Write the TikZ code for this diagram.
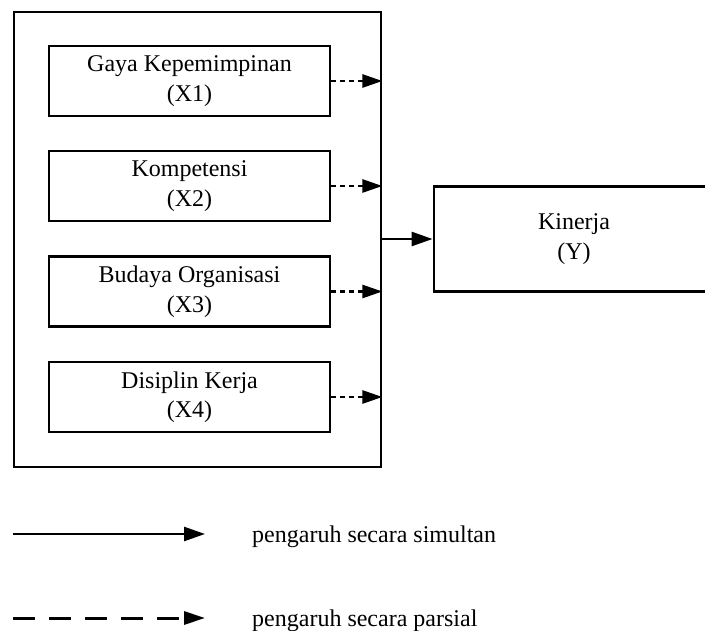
\documentclass[tikz,border=0pt]{standalone}
\usepackage{fontspec}
\setmainfont{Liberation Serif}
\usetikzlibrary{arrows.meta}
\begin{document}
\begin{tikzpicture}[x=1pt,y=-1pt,
  every node/.style={font=\fontsize{24}{29.5}\selectfont},
  varbox/.style={draw,line width=2.8pt,rectangle,minimum width=281pt,minimum height=70pt,align=center,inner sep=0pt},
  outerbox/.style={draw,line width=2.8pt,rectangle,minimum width=367pt,minimum height=455pt,inner sep=0pt},
  ybox/.style={draw,line width=2.8pt,rectangle,minimum width=280pt,minimum height=105pt,align=center,inner sep=0pt},
  partial/.style={line width=2.6pt,dash pattern=on 5pt off 4pt,-{Triangle[length=20pt,width=13pt]}},
  simul/.style={line width=2.6pt,-{Triangle[length=21pt,width=14pt]}},
  legdash/.style={line width=3pt,dash pattern=on 22pt off 14pt,-{Triangle[length=21pt,width=13pt]}},
  legtext/.style={anchor=base west,inner sep=0pt}]
\useasboundingbox (0,0) rectangle (705,631);
\clip (0,0) rectangle (705,631);
\node[outerbox] (outer) at (197.5,239.5) {};
\node[varbox] (x1) at (189.5,81) {Gaya Kepemimpinan\\(X1)};
\node[varbox] (x2) at (189.5,186) {Kompetensi\\(X2)};
\node[varbox] (x3) at (189.5,291.5) {Budaya Organisasi\\(X3)};
\node[varbox] (x4) at (189.5,397) {Disiplin Kerja\\(X4)};
\node[ybox] (y) at (574,239) {Kinerja\\(Y)};
\foreach \n in {x1,x2,x3,x4}{
  \draw[partial] (\n.east) -- (\n.east -| outer.east);
}
\draw[simul] (outer.east |- y.west) -- (y.west);
\coordinate (l1a) at (13,534);
\coordinate (l1b) at (205,534);
\coordinate (l2a) at (13,618);
\coordinate (l2b) at (205,618);
\draw[simul] (l1a) -- (l1b);
\draw[legdash] (l2a) -- (l2b);
\node[legtext] (t1) at (252,542) {pengaruh secara simultan};
\node[legtext] (t2) at (252,626) {pengaruh secara parsial};
\end{tikzpicture}
\end{document}
